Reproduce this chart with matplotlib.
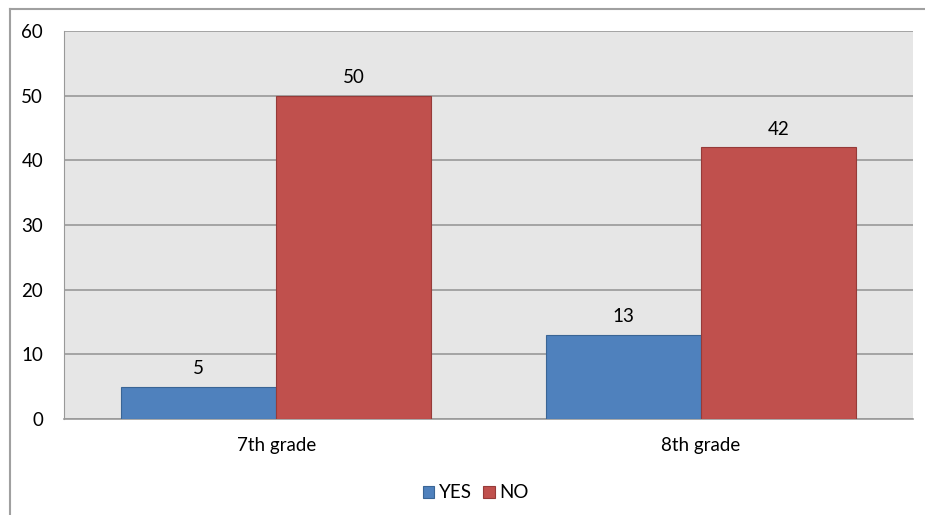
import matplotlib
matplotlib.use("Agg")
import matplotlib.pyplot as plt
from matplotlib.lines import Line2D
import numpy as np

categories = ["7th grade", "8th grade"]
yes_values = [5, 13]
no_values = [50, 42]
series_names = ["YES", "NO"]
y_ticks = [0, 10, 20, 30, 40, 50, 60]

plt.rcParams["font.family"] = ["Lato", "DejaVu Sans"]

W, H = 925, 515
FS = 13.5
fig = plt.figure(figsize=(W / 100, H / 100), dpi=100)
ax = fig.add_axes([64 / W, 1 - 419 / H, (913 - 64) / W, (419 - 31) / H])
ax.set_facecolor("#E6E6E6")

x = np.arange(len(categories))
bw = 0.365
b1 = ax.bar(x - bw / 2, yes_values, bw, color="#4F81BD", edgecolor="#3A6595",
            linewidth=0.8, label=series_names[0], zorder=3)
b2 = ax.bar(x + bw / 2, no_values, bw, color="#C0504D", edgecolor="#963B39",
            linewidth=0.8, label=series_names[1], zorder=3)

for bars, vals in ((b1, yes_values), (b2, no_values)):
    for r, v in zip(bars, vals):
        ax.annotate(str(v), (r.get_x() + r.get_width() / 2, v),
                    xytext=(0, 7), textcoords="offset points",
                    ha="center", va="bottom", fontsize=FS, color="#000000")

ax.set_xlim(-0.5, 1.5)
ax.set_ylim(0, 60)
ax.set_yticks(y_ticks)
ax.set_xticks(x)
ax.set_xticklabels(categories)
ax.tick_params(axis="both", length=0, labelsize=FS, colors="#000000")
ax.tick_params(axis="y", pad=15)
ax.tick_params(axis="x", pad=13)
ax.grid(axis="y", color="#999999", linewidth=1.2, zorder=1)
ax.set_axisbelow(True)
for s in ("top", "right"):
    ax.spines[s].set_visible(False)
ax.spines["left"].set_color("#999999")
ax.spines["bottom"].set_color("#999999")
ax.spines["bottom"].set_linewidth(1.2)

fig.legend(handles=[b1, b2], loc="center", bbox_to_anchor=(476 / W, 1 - 493 / H),
           ncol=2, frameon=False, fontsize=FS, handlelength=0.6, handleheight=0.6,
           handletextpad=0.25, columnspacing=0.6, borderaxespad=0)

# outer frame
fig.add_artist(Line2D([10 / W, 10 / W], [0, 1 - 9 / H], color="#A0A0A0", linewidth=1.5,
                      transform=fig.transFigure))
fig.add_artist(Line2D([10 / W, 1], [1 - 9 / H, 1 - 9 / H], color="#A0A0A0", linewidth=1.5,
                      transform=fig.transFigure))

fig.savefig("out.png", dpi=100)
